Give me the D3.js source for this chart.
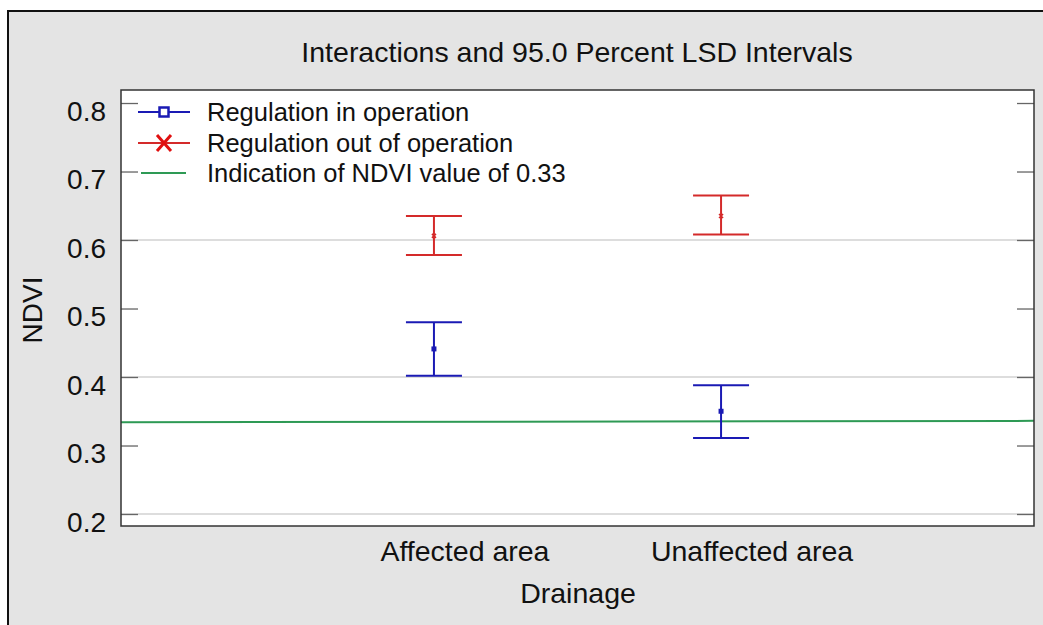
<!DOCTYPE html>
<html><head><meta charset="utf-8">
<script src="https://cdn.jsdelivr.net/npm/d3@7"></script>
<style>body{margin:0;background:#fff}svg{display:block;font-family:Arial,"Liberation Sans",sans-serif}</style>
</head><body>
<script>
const categories = ["Affected area", "Unaffected area"];
const seriesNames = ["Regulation in operation", "Regulation out of operation", "Indication of NDVI value of 0.33"];
const blueMean = [0.441, 0.350];
const blueLow  = [0.402, 0.311];
const blueHigh = [0.480, 0.388];
const redMean  = [0.606, 0.635];
const redLow   = [0.578, 0.608];
const redHigh  = [0.635, 0.665];
const refLine  = [0.334, 0.336];
const yTicks   = [0.2, 0.3, 0.4, 0.5, 0.6, 0.7, 0.8];
const gridTicks = [0.2, 0.4, 0.6];

const W = 1043, H = 625;
const svg = d3.select("body").append("svg").attr("width", W).attr("height", H);
svg.append("rect").attr("x", 8).attr("y", 11).attr("width", W).attr("height", H).attr("fill", "#e4e4e4");
svg.append("path").attr("d", `M8,${H}V11H${W}`).attr("fill", "none").attr("stroke", "#111").attr("stroke-width", 2);

const L = 121, R = 1034, T = 90, B = 526;
const y = d3.scaleLinear().domain([0.1825, 0.819]).range([B, T]);
const x = d3.scalePoint().domain(categories).range([L, R]).padding(1.09);
const xr = d3.scaleLinear().domain([0, 1]).range([L, R]);

svg.append("rect").attr("x", L).attr("y", T).attr("width", R - L).attr("height", B - T).attr("fill", "#fff");

// gridlines
svg.append("g").selectAll("line").data(gridTicks).join("line")
  .attr("x1", L).attr("x2", R).attr("y1", d => y(d)).attr("y2", d => y(d))
  .attr("stroke", "#d2d2d2").attr("stroke-width", 1.3);

// axes
const ya = svg.append("g").attr("transform", `translate(${L},0)`)
  .call(d3.axisRight(y).tickValues(yTicks).tickSize(17).tickFormat(""));
ya.select(".domain").remove();
ya.selectAll("line").attr("stroke", "#666").attr("stroke-width", 1.3);
const ya2 = svg.append("g").attr("transform", `translate(${R},0)`)
  .call(d3.axisLeft(y).tickValues(yTicks).tickSize(17).tickFormat(""));
ya2.select(".domain").remove();
ya2.selectAll("line").attr("stroke", "#666").attr("stroke-width", 1.3);

svg.append("g").selectAll("text").data(yTicks).join("text")
  .attr("x", 106).attr("y", d => y(d) + 17.5).attr("text-anchor", "end")
  .attr("font-size", 28).attr("fill", "#111").text(d => d.toFixed(1));

svg.append("g").selectAll("text").data(categories).join("text")
  .attr("x", d => x(d) + 31).attr("y", 561).attr("text-anchor", "middle")
  .attr("font-size", 28.5).attr("fill", "#111").text(d => d);

// reference line
svg.append("line").attr("x1", xr(0)).attr("x2", xr(1)).attr("y1", y(refLine[0])).attr("y2", y(refLine[1]))
  .attr("stroke", "#2e9a55").attr("stroke-width", 2);

function drawSeries(mean, lo, hi, color, marker) {
  const g = svg.append("g").attr("stroke", color).attr("stroke-width", 2).attr("fill", "none");
  categories.forEach((c, i) => {
    const cx = x(c);
    g.append("line").attr("x1", cx).attr("x2", cx).attr("y1", y(lo[i])).attr("y2", y(hi[i]));
    g.append("line").attr("x1", cx - 28).attr("x2", cx + 28).attr("y1", y(lo[i])).attr("y2", y(lo[i]));
    g.append("line").attr("x1", cx - 28).attr("x2", cx + 28).attr("y1", y(hi[i])).attr("y2", y(hi[i]));
    if (marker === "square") {
      g.append("rect").attr("x", cx - 2.5).attr("y", y(mean[i]) - 2.5).attr("width", 5).attr("height", 5).attr("fill", color).attr("stroke", "none");
    } else {
      const my = y(mean[i]);
      g.append("path").attr("d", `M${cx-2},${my-2}L${cx+2},${my+2}M${cx-2},${my+2}L${cx+2},${my-2}`).attr("stroke-width", 1.6);
    }
  });
}
drawSeries(redMean, redLow, redHigh, "#d42a2a", "x");
drawSeries(blueMean, blueLow, blueHigh, "#1a1ab4", "square");

// plot border
svg.append("rect").attr("x", L).attr("y", T).attr("width", R - L).attr("height", B - T)
  .attr("fill", "none").attr("stroke", "#333").attr("stroke-width", 1.5);

// legend
const leg = svg.append("g");
const legColors = ["#1a1ab4", "#d42a2a", "#2e9a55"];
const legY = [112, 143, 173];
seriesNames.forEach((n, i) => {
  const yy = legY[i];
  leg.append("line").attr("x1", i === 2 ? 141 : 138).attr("x2", i === 2 ? 186 : 190).attr("y1", yy).attr("y2", yy)
    .attr("stroke", legColors[i]).attr("stroke-width", 2);
  if (i === 0) leg.append("rect").attr("x", 159.5).attr("y", yy - 4.5).attr("width", 9).attr("height", 9)
    .attr("fill", "#fff").attr("stroke", legColors[i]).attr("stroke-width", 2.5);
  if (i === 1) leg.append("path").attr("d", `M157,${yy-8}L171,${yy+8}M157,${yy+8}L171,${yy-8}`)
    .attr("stroke", "#e01010").attr("stroke-width", 3);
  leg.append("text").attr("x", 207).attr("y", yy + 8.5).attr("font-size", 25.5).attr("fill", "#111").text(n);
});

// titles
svg.append("text").attr("x", 577).attr("y", 62).attr("text-anchor", "middle")
  .attr("font-size", 28.5).attr("fill", "#111").text("Interactions and 95.0 Percent LSD Intervals");
svg.append("text").attr("x", 578).attr("y", 603).attr("text-anchor", "middle")
  .attr("font-size", 28.5).attr("fill", "#111").text("Drainage");
svg.append("text").attr("transform", "translate(42,310) rotate(-90)").attr("text-anchor", "middle")
  .attr("font-size", 28).attr("fill", "#111").text("NDVI");
</script>
</body></html>
